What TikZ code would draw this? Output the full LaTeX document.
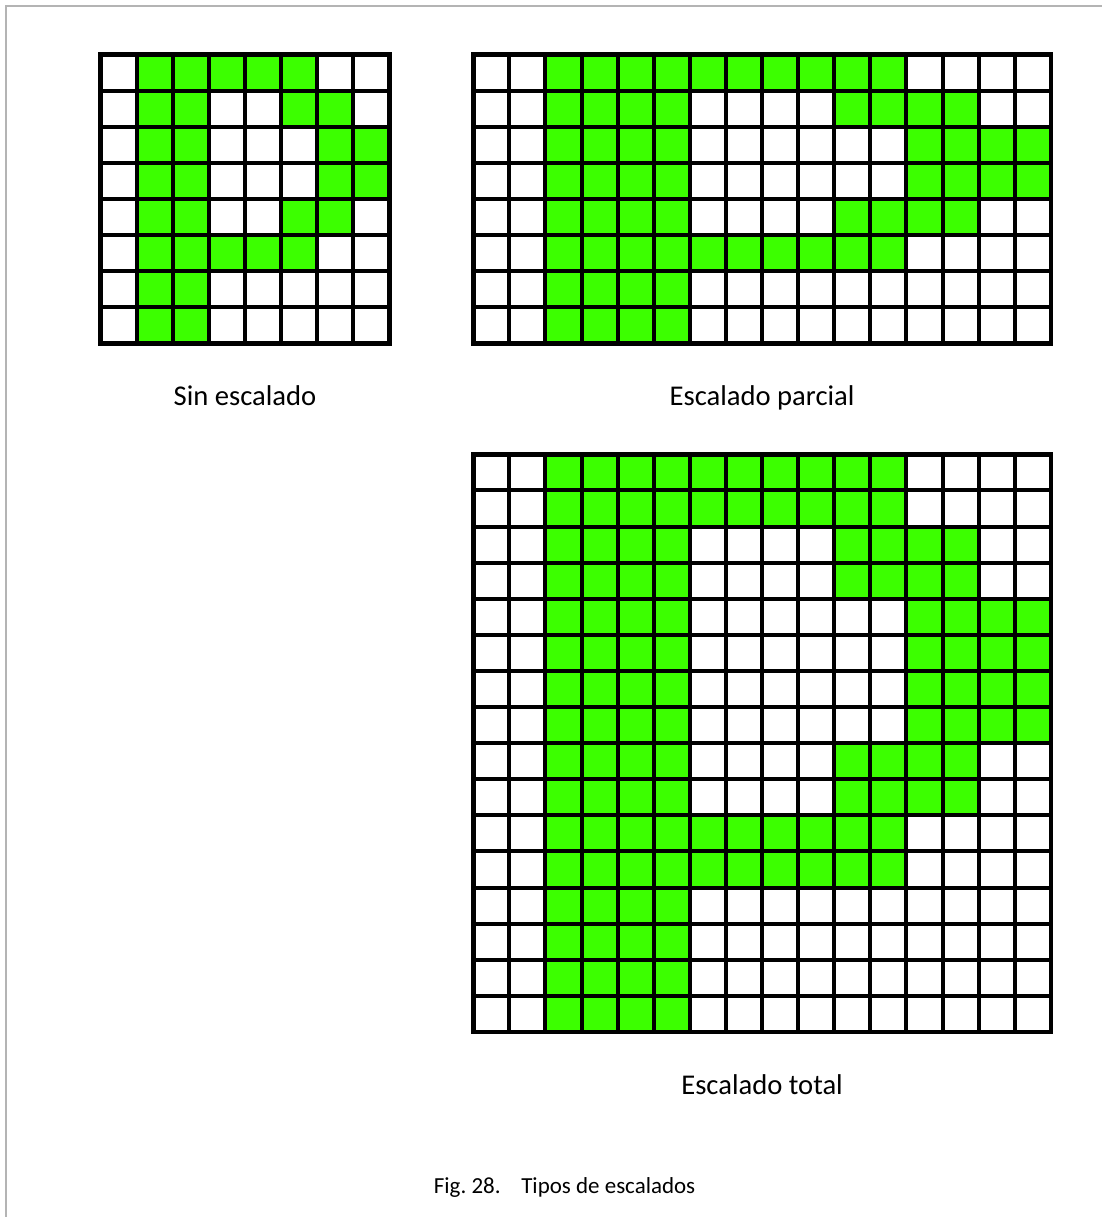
\documentclass[tikz,border=0pt]{standalone}
\usepackage{fontspec}
\setmainfont{Carlito}
\definecolor{pixgreen}{RGB}{60,255,0}
\definecolor{framegray}{RGB}{180,180,180}
\begin{document}
\begin{tikzpicture}[x=0.9cm,y=0.9cm,
  cell/.style={fill=pixgreen},
  gridline/.style={line width=2.85pt},
  gridborder/.style={line width=3.3pt},
  gridlabel/.style={anchor=base,inner sep=0pt,font=\fontsize{20.3}{24}\selectfont},
  captext/.style={anchor=base,inner sep=0pt,font=\fontsize{16.3}{20}\selectfont}]
\useasboundingbox (0,0) rectangle (30.526,-33.712);
\draw[framegray,line width=1.42pt] (0.158,-33.712) -- (0.158,-0.158) -- (30.526,-0.158);
% the same 8x8 letter, stretched in x and then in y
\foreach \gx/\gy/\sx/\sy in {2.788/-1.514/1/1, 13.11/-1.514/2/1, 13.11/-12.585/2/2} {
  \begin{scope}[shift={(\gx,\gy)}]
    \foreach \cols [count=\r] in {{2,3,4,5,6},{2,3,6,7},{2,3,7,8},{2,3,7,8},{2,3,6,7},{2,3,4,5,6},{2,3},{2,3}} {
      \foreach \c in \cols {
        \fill[cell] ({(\c-1)*\sx},{-(\r-1)*\sy}) rectangle ({\c*\sx},{-\r*\sy});
      }
    }
    \draw[gridline] (0,{-8*\sy}) grid[step=1] ({8*\sx},0);
    \draw[gridborder] (0,{-8*\sy}) rectangle ({8*\sx},0);
  \end{scope}
}
\node[gridlabel] (sinlbl) at (6.788,-11.23) {Sin escalado};
\node[gridlabel] (parciallbl) at (21.11,-11.23) {Escalado parcial};
\node[gridlabel] (totallbl) at (21.11,-30.305) {Escalado total};
\node[captext] (figcap) at (15.64,-33.07) {Fig.~28.\hspace{0.9em}Tipos de escalados};
\end{tikzpicture}
\end{document}
